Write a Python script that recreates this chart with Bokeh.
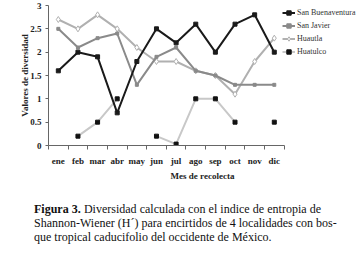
import math
from bokeh.plotting import figure
from bokeh.models import FixedTicker, NumeralTickFormatter, Legend, LegendItem, Div, Range1d
from bokeh.layouts import column
from bokeh.embed import file_html
from bokeh.resources import INLINE

nan = float("nan")
months = ["ene", "feb", "mar", "abr", "may", "jun", "jul", "ago", "sep", "oct", "nov", "dic"]
san_buenaventura = [1.6, 2.0, 1.9, 0.7, 1.8, 2.5, 2.2, 2.6, 2.0, 2.6, 2.8, 2.0]
san_javier = [2.5, 2.1, 2.3, 2.4, 1.3, 1.9, 2.1, 1.6, 1.5, 1.3, 1.3, 1.3]
huautla = [2.7, 2.5, 2.8, 2.5, 2.1, 1.8, 1.8, 1.6, 1.5, 1.1, 1.8, 2.3]
huatulco = [nan, 0.2, 0.5, 1.0, nan, 0.2, 0.03, 1.0, 1.0, 0.5, nan, 0.5]
y_ticks = [0, 0.5, 1, 1.5, 2, 2.5, 3]

FONT = "Liberation Serif"
x = list(range(len(months)))

# frame spans the data area plus room for the legend on the right;
# axis drawn only over the months via bounds
W, LEFT, RIGHT = 359, 48, 3
data_px = 235.6
frame_px = W - LEFT - RIGHT
x_start = -0.5
x_end = x_start + len(months) * frame_px / data_px

p = figure(width=W, height=183, x_range=Range1d(x_start, x_end),
           y_range=Range1d(0, 3), output_backend="svg", toolbar_location=None,
           min_border_left=LEFT, min_border_right=RIGHT, min_border_top=5, min_border_bottom=35)
p.outline_line_color = None
p.xgrid.visible = False
p.ygrid.visible = False

# x axis: labels at month centres, tick marks at boundaries
xa = p.xaxis[0]
xa.bounds = (-0.5, len(months) - 0.5)
xa.ticker = FixedTicker(ticks=x, minor_ticks=[i - 0.5 for i in range(len(months) + 1)])
xa.major_label_overrides = {i: m for i, m in enumerate(months)}
xa.major_tick_out = 0
xa.major_tick_in = 0
xa.minor_tick_out = 4
xa.minor_tick_in = 0
xa.minor_tick_line_color = "#666666"
xa.axis_line_color = "#666666"
xa.major_label_text_font = FONT
xa.major_label_text_font_style = "bold"
xa.major_label_text_font_size = "9px"
xa.major_label_text_color = "#222222"
xa.major_label_standoff = 6
xa.axis_label = "Mes de recolecta"
xa.axis_label_text_font = FONT
xa.axis_label_text_font_style = "bold"
xa.axis_label_text_font_size = "9px"
xa.axis_label_text_color = "#222222"
xa.axis_label_standoff = 2

ya = p.yaxis[0]
ya.ticker = FixedTicker(ticks=y_ticks)
ya.formatter = NumeralTickFormatter(format="0.[0]")
ya.major_tick_out = 3
ya.major_tick_in = 0
ya.minor_tick_out = 0
ya.minor_tick_in = 0
ya.major_tick_line_color = "#666666"
ya.axis_line_color = "#666666"
ya.major_label_text_font = FONT
ya.major_label_text_font_style = "bold"
ya.major_label_text_font_size = "9px"
ya.major_label_text_color = "#222222"
ya.major_label_standoff = 4
ya.axis_label = "Valores de diversidad"
ya.axis_label_text_font = FONT
ya.axis_label_text_font_style = "bold"
ya.axis_label_text_font_size = "9px"
ya.axis_label_text_color = "#222222"
ya.axis_label_standoff = -3

# Huatulco (light grey line, black squares)
l4 = p.line(x, huatulco, line_color="#c8c8c8", line_width=2)
s4 = p.scatter(x, huatulco, marker="square", size=4, fill_color="#111111", line_color="#111111")
# Huautla (light grey, open diamonds)
l3 = p.line(x, huautla, line_color="#b0b0b0", line_width=2)
s3 = p.scatter(x, huautla, marker="diamond", size=6, fill_color="white", line_color="#b0b0b0", line_width=1)
# San Javier (medium grey)
l2 = p.line(x, san_javier, line_color="#8a8a8a", line_width=2)
s2 = p.scatter(x, san_javier, marker="square", size=3, fill_color="#8a8a8a", line_color="#8a8a8a")
# San Buenaventura (black)
l1 = p.line(x, san_buenaventura, line_color="#1a1a1a", line_width=2)
s1 = p.scatter(x, san_buenaventura, marker="square", size=4, fill_color="#1a1a1a", line_color="#1a1a1a")

legend = Legend(items=[
    LegendItem(label="San Buenaventura", renderers=[l1, s1]),
    LegendItem(label="San Javier", renderers=[l2, s2]),
    LegendItem(label="Huautla", renderers=[l3, s3]),
    LegendItem(label="Huatulco", renderers=[l4, s4]),
], location=(234, 88))
legend.glyph_width = 13
legend.glyph_height = 11
legend.label_height = 11
legend.label_standoff = 2
legend.spacing = 2
legend.padding = 0
legend.margin = 0
legend.border_line_color = None
legend.background_fill_alpha = 0
legend.label_text_font = FONT
legend.label_text_font_size = "8px"
legend.label_text_color = "#333333"
p.add_layout(legend, "center")

line_style = "text-align:justify;text-align-last:justify;white-space:nowrap;"
caption_html = (
    '<div style="padding-left:34px;padding-top:19px;font-family:\'Liberation Serif\';'
    'font-size:12px;line-height:14px;color:#111111;width:321px;">'
    f'<div style="{line_style}"><b>Figura 3.</b> Diversidad calculada con el indice de entropia de</div>'
    f'<div style="{line_style}">Shannon-Wiener (H´) para encirtidos de 4 localidades con bos-</div>'
    '<div style="white-space:nowrap;">que tropical caducifolio del occidente de México.</div>'
    '</div>'
)
cap = Div(text=caption_html, width=359, height=72, margin=0)

layout = column(p, cap, spacing=0)
open("out.html", "w").write(file_html(layout, INLINE))
